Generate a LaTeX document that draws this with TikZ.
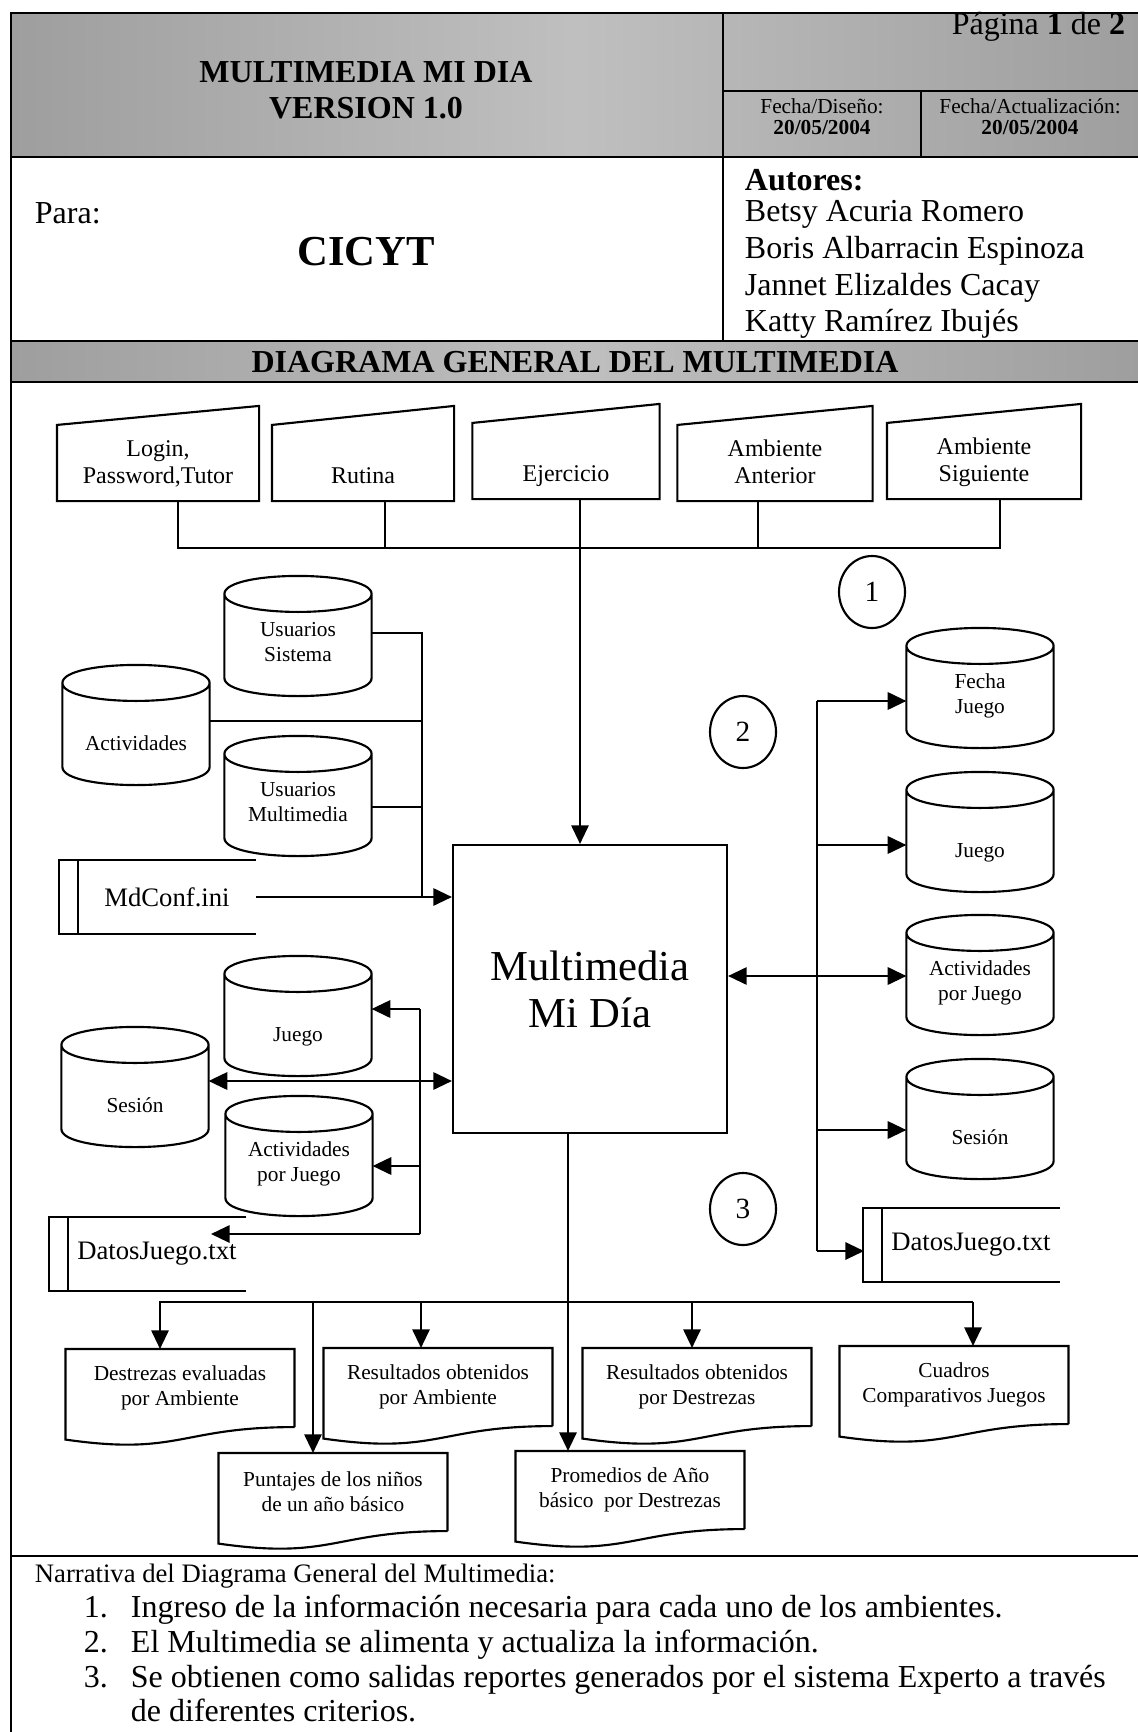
\documentclass[tikz,border=0pt]{standalone}
\usepackage{fontspec}
\setmainfont{Liberation Serif}
\usetikzlibrary{calc,arrows.meta,shapes.geometric}

\begin{document}
\begin{tikzpicture}[x=0.375pt,y=-0.375pt,line width=0.8pt,
    frame/.style={line width=1.1pt},
    arr/.style={-{Triangle[length=7pt,width=6.5pt]}},
    dbl/.style={{Triangle[length=7pt,width=6.5pt]}-{Triangle[length=7pt,width=6.5pt]}},
    manual/.style={minimum height=27.75pt, inner sep=0pt, align=center,
      text height=17.25pt, text depth=2pt,
      font=\fontsize{9}{10.1}\selectfont,
      append after command={\pgfextra{
        \draw (\tikzlastnode.south west) -- (\tikzlastnode.north west)
          -- ($(\tikzlastnode.north east)+(0,-19)$) -- (\tikzlastnode.south east) -- cycle;}}},
    database/.style={minimum width=54.4pt, minimum height=30.75pt, inner sep=0pt, align=center,
      text height=7.6pt, text depth=2pt,
      font=\fontsize{8}{9.3}\selectfont,
      append after command={\pgfextra{
        \draw ($(\tikzlastnode.north west)+(0,-18)$)
          .. controls +(0,-24) and +(0,-24) .. ($(\tikzlastnode.north east)+(0,-18)$)
          .. controls +(0,24) and +(0,24) .. ($(\tikzlastnode.north west)+(0,-18)$)
          -- ($(\tikzlastnode.south west)+(0,-18)$)
          .. controls +(0,24) and +(0,24) .. ($(\tikzlastnode.south east)+(0,-18)$)
          -- ($(\tikzlastnode.north east)+(0,-18)$);}}},
    report/.style={minimum width=85.1pt, minimum height=28.5pt, inner sep=0pt, align=center,
      font=\fontsize{8}{9.3}\selectfont,
      append after command={\pgfextra{
        \draw (\tikzlastnode.south east) -- (\tikzlastnode.north east) -- (\tikzlastnode.north west)
          -- ($(\tikzlastnode.south west)+(0,12.5)$)
          .. controls ($(\tikzlastnode.south)+(0,29)$) and (\tikzlastnode.south) .. (\tikzlastnode.south east);}}},
    datastore/.style={minimum width=66pt, minimum height=27pt, inner sep=0pt,
      font=\fontsize{10}{12}\selectfont,
      append after command={\pgfextra{
        \draw (\tikzlastnode.north east) -- ($(\tikzlastnode.north west)+(-19,0)$)
          -- ($(\tikzlastnode.south west)+(-19,0)$) -- (\tikzlastnode.south east);
        \draw (\tikzlastnode.north west) -- (\tikzlastnode.south west);}}},
    process/.style={draw, minimum width=102.75pt, minimum height=108pt, inner sep=0pt,
      align=center, font=\fontsize{16}{17.6}\selectfont},
    marker/.style={ellipse, draw, minimum width=24.75pt, minimum height=27pt, inner sep=0pt,
      font=\fontsize{11}{13}\selectfont},
    narrow/.style={anchor=base west, font=\fontsize{12}{14}\selectfont}]
   \useasboundingbox (0,0) rectangle (1137,1732);

   % header table
   \shade[left color=black!38, right color=black!38, middle color=black!25] (11,13) rectangle (1140,157);
   \shade[left color=black!38, right color=black!38, middle color=black!25] (11,341) rectangle (1140,382);
   \draw[frame] (1140,13) -- (11,13) -- (11,1740);
   \draw[frame] (11,157) -- (1140,157);
   \draw[frame] (11,341) -- (1140,341);
   \draw[frame] (11,382) -- (1140,382);
   \draw[frame] (11,1556) -- (1140,1556);
   \draw[frame] (723,13) -- (723,341);
   \draw[frame] (723,91) -- (1140,91);
   \draw[frame] (921,91) -- (921,157);

   \node[align=center, font=\bfseries\fontsize{12}{13.5}\selectfont] (title) at (366,90) {MULTIMEDIA MI DIA\\VERSION 1.0};
   \node[anchor=east, font=\fontsize{12}{14}\selectfont] (page) at (1135,27) {Página \textbf{1} de \textbf{2}};
   \node[align=center, font=\fontsize{8}{7.9}\selectfont] (fdis) at (822,117) {Fecha/Diseño:\\\textbf{20/05/2004}};
   \node[align=center, font=\fontsize{8}{7.9}\selectfont] (fact) at (1030,117) {Fecha/Actualización:\\\textbf{20/05/2004}};
   \node[anchor=west, font=\fontsize{12}{14}\selectfont] (para) at (25,213) {Para:};
   \node[font=\bfseries\fontsize{16}{18}\selectfont] (cicyt) at (366,252) {CICYT};
   \node[anchor=west, font=\bfseries\fontsize{12}{14}\selectfont] (aut) at (735,180) {Autores:};
   \node[anchor=west, font=\fontsize{12}{14}\selectfont] (au1) at (735,214) {Betsy Acuria Romero};
   \node[anchor=west, font=\fontsize{12}{14}\selectfont] (au2) at (735,251) {Boris Albarracin Espinoza};
   \node[anchor=west, font=\fontsize{12}{14}\selectfont] (au3) at (735,288) {Jannet Elizaldes Cacay};
   \node[anchor=west, font=\fontsize{12}{14}\selectfont] (au4) at (735,324) {Katty Ramírez Ibujés};
   \node[font=\bfseries\fontsize{12}{14}\selectfont] (band) at (575,362) {DIAGRAMA GENERAL DEL MULTIMEDIA};

   % inputs
   \node[manual, minimum width=75pt] (in1) at (158,463) {Login,\\Password,Tutor};
   \node[manual, minimum width=67.5pt] (in2) at (363,463) {Rutina};
   \node[manual, minimum width=69.4pt] (in3) at (566,461) {Ejercicio};
   \node[manual, minimum width=72.4pt] (in4) at (775,463) {Ambiente\\Anterior};
   \node[manual, minimum width=72pt] (in5) at (984,461) {Ambiente\\Siguiente};

   \coordinate (b1) at (178,548);
   \coordinate (b2) at (385,548);
   \coordinate (b3) at (580,548);
   \coordinate (b4) at (758,548);
   \coordinate (b5) at (1000,548);

   % process
   \node[process] (main) at (590,989) {Multimedia\\Mi Día};

   \node[marker] (c1) at (872,592) {1};
   \node[marker] (c2) at (743,732) {2};
   \node[marker] (c3) at (743,1209) {3};

   % left stores
   \node[database] (us) at (298,654) {Usuarios\\Sistema};
   \node[database] (act) at (136,743) {Actividades};
   \node[database] (um) at (298,814) {Usuarios\\Multimedia};
   \node[datastore] (md) at (167,897) {MdConf.ini};
   \node[database] (lj) at (298,1034) {Juego};
   \node[database] (ls) at (135,1105) {Sesión};
   \node[database] (la) at (299,1174) {Actividades\\por Juego};
   \node[datastore] (dl) at (157,1254) {DatosJuego.txt};

   \coordinate (t1) at (422,633);
   \coordinate (t2) at (422,721);
   \coordinate (t3) at (422,807);
   \coordinate (j1) at (420,1009);
   \coordinate (j2) at (420,1081);
   \coordinate (j3) at (420,1166);
   \coordinate (j4) at (420,1234);
   \coordinate (dlin) at (211,1234);

   % right stores
   \node[database] (fj) at (980,706) {Fecha\\Juego};
   \node[database] (rj) at (980,850) {Juego};
   \node[database] (ra) at (980,993) {Actividades\\por Juego};
   \node[database] (rs) at (980,1137) {Sesión};
   \node[datastore] (dr) at (971,1245) {DatosJuego.txt};

   \coordinate (r1) at (817,701);
   \coordinate (r2) at (817,845);
   \coordinate (r3) at (817,976);
   \coordinate (r4) at (817,1130);
   \coordinate (r5) at (817,1251);
   \coordinate (drin) at (864,1251);

   % reports
   \node[report] (d1) at (180,1388) {Destrezas evaluadas\\por Ambiente};
   \node[report] (d2) at (438,1387) {Resultados obtenidos\\por Ambiente};
   \node[report] (d3) at (697,1387) {Resultados obtenidos\\por Destrezas};
   \node[report] (d4) at (954,1385) {Cuadros\\Comparativos Juegos};
   \node[report] (d5) at (333,1492) {Puntajes de los niños\\de un año básico};
   \node[report] (d6) at (630,1490) {Promedios de Año\\básico\ \ por Destrezas};

   \coordinate (o1) at (160,1302);
   \coordinate (o2) at (313,1302);
   \coordinate (o3) at (421,1302);
   \coordinate (om) at (568,1302);
   \coordinate (o4) at (692,1302);
   \coordinate (o5) at (973,1302);

   % connectors
   \draw (b1 |- in1.south) -- (b1) -- (b5) -- (b5 |- in5.south);
   \draw (b2 |- in2.south) -- (b2);
   \draw (b4 |- in4.south) -- (b4);
   \draw[arr] (b3 |- in3.south) -- (b3 |- main.north);

   \draw (t1 -| us.east) -- (t1) -- (t1 |- md.east);
   \draw (t2 -| act.east) -- (t2);
   \draw (t3 -| um.east) -- (t3);
   \draw[arr] (md.east) -- (md.east -| main.west);

   \draw[arr] (j1) -- (j1 -| lj.east);
   \draw (j1) -- (j4);
   \draw[arr] (j3) -- (j3 -| la.east);
   \draw[arr] (j4) -- (dlin);
   \draw[dbl] (j2 -| ls.east) -- (j2 -| main.west);

   \draw[arr] (r1) -- (r1 -| fj.west);
   \draw (r1) -- (r5);
   \draw[arr] (r2) -- (r2 -| rj.west);
   \draw[dbl] (r3 -| main.east) -- (r3 -| ra.west);
   \draw[arr] (r4) -- (r4 -| rs.west);
   \draw[arr] (r5) -- (drin);

   \draw[arr] (o5) -- (o1) -- (o1 |- d1.north);
   \draw[arr] (o2) -- (o2 |- d5.north);
   \draw[arr] (o3) -- (o3 |- d2.north);
   \draw[arr] (om |- main.south) -- (om |- d6.north);
   \draw[arr] (o4) -- (o4 |- d3.north);
   \draw[arr] (o5) -- (o5 |- d4.north);

   % narrative
   \node[anchor=base west, font=\fontsize{10}{12}\selectfont] (narr) at (25,1582) {Narrativa del Diagrama General del Multimedia:};
   \node[narrow] (k1) at (74,1617) {1.};
   \node[narrow] (s1) at (121,1617) {Ingreso de la información necesaria para cada uno de los ambientes.};
   \node[narrow] (k2) at (74,1652) {2.};
   \node[narrow] (s2) at (121,1652) {El Multimedia se alimenta y actualiza la información.};
   \node[narrow] (k3) at (74,1687) {3.};
   \node[narrow] (s3) at (121,1687) {Se obtienen como salidas reportes generados por el sistema Experto a través};
   \node[narrow] (s4) at (121,1721) {de diferentes criterios.};
\end{tikzpicture}
\end{document}
